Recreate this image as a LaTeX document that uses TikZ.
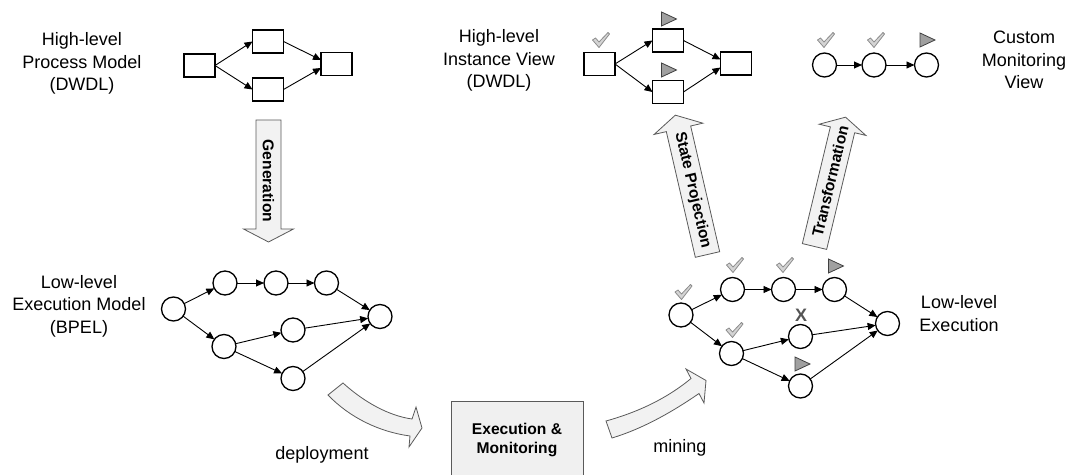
\documentclass[tikz,border=0pt]{standalone}
\usepackage{fontspec}
\setmainfont{Liberation Sans}
\usetikzlibrary{arrows.meta}
\definecolor{fatfill}{HTML}{F2F2F2}
\definecolor{fatline}{HTML}{5A5A5A}
\definecolor{chkfill}{HTML}{D4D4D4}
\definecolor{chkline}{HTML}{8C8C8C}
\definecolor{trifill}{HTML}{A0A0A0}
\definecolor{triline}{HTML}{404040}
\definecolor{boxfill}{HTML}{F0F0F0}
\definecolor{xmark}{HTML}{555555}
\begin{document}
\begin{tikzpicture}[x=0.5pt,y=-0.5pt,
  every node/.style={inner sep=0pt, outer sep=0pt},
  lbl/.style={font=\fontsize{9}{11.3}\selectfont, align=center},
  blbl/.style={font=\fontsize{7.8}{9.5}\selectfont\bfseries, align=center},
  actbox/.style={draw, line width=0.65pt, minimum width=15.5pt, minimum height=11.5pt},
  actcirc/.style={draw, circle, line width=0.65pt, minimum size=12pt},
  flow/.style={line width=0.45pt, -{Triangle[length=4pt,width=3.5pt]}},
  fat/.style={fill=fatfill, draw=fatline, line width=0.4pt, line join=miter},
  chk/.pic={\path[fill=chkfill, draw=chkline, line width=0.4pt, line join=round] (-8.5,0) -- (-5.5,-2) -- (-2,2) -- (7,-7.5) -- (8.5,-6) -- (-2,7.5) -- cycle;},
  tri/.pic={\path[fill=trifill, draw=triline, line width=0.4pt] (-7,-7) -- (8,0) -- (-7,7) -- cycle;},
]
\useasboundingbox (0,0) rectangle (1065,475);

% ---------- labels ----------
\node[lbl] (lHPM) at (82,63.5) {High-level\\Process Model\\(DWDL)};
\node[lbl] (lHIV) at (499,60.5) {High-level\\Instance View\\(DWDL)};
\node[lbl] (lCMV) at (1024,60) {Custom\\Monitoring\\View};
\node[lbl] (lLEM) at (79,306) {Low-level\\Execution Model\\(BPEL)};
\node[lbl] (lLE) at (959,313.5) {Low-level\\Execution};
\node[lbl] (ldep) at (322,455) {deployment};
\node[lbl] (lmin) at (680,448) {mining};

% ---------- high-level process model ----------
\node[actbox] (b1) at (199.5,65.5) {};
\node[actbox] (b2) at (268,41.5) {};
\node[actbox] (b3) at (268,89.5) {};
\node[actbox] (b4) at (336.5,64) {};
\draw[flow] (b1.east) -- (b2.west);
\draw[flow] (b1.east) -- (b3.west);
\draw[flow] (b2.east) -- ([yshift=2pt]b4.west);
\draw[flow] (b3.east) -- ([yshift=-2pt]b4.west);

% ---------- high-level instance view ----------
\node[actbox] (i1) at (599.5,64) {};
\node[actbox] (i2) at (668,40.5) {};
\node[actbox] (i3) at (668,92) {};
\node[actbox] (i4) at (736,63.5) {};
\draw[flow] (i1.east) -- (i2.west);
\draw[flow] (i1.east) -- (i3.west);
\draw[flow] (i2.east) -- ([yshift=2pt]i4.west);
\draw[flow] (i3.east) -- ([yshift=-2pt]i4.west);
\pic at (601,40) {chk};
\pic at (668.5,19) {tri};
\pic at (668.5,70) {tri};

% ---------- custom monitoring view ----------
\node[actcirc] (m1) at (824.5,65) {};
\node[actcirc] (m2) at (874,65) {};
\node[actcirc] (m3) at (926.5,65) {};
\draw[flow] (m1) -- (m2);
\draw[flow] (m2) -- (m3);
\pic at (826,40) {chk};
\pic at (876,40) {chk};
\pic at (927,40) {tri};

% ---------- low-level execution model (BPEL) ----------
\node[actcirc] (e0) at (173.5,309) {};
\node[actcirc] (e1) at (225,283) {};
\node[actcirc] (e2) at (276,283) {};
\node[actcirc] (e3) at (326.5,283) {};
\node[actcirc] (e4) at (380,316.5) {};
\node[actcirc] (e5) at (224,346.5) {};
\node[actcirc] (e6) at (293,330) {};
\node[actcirc] (e7) at (293,378.5) {};
\draw[flow] (e0) -- (e1);
\draw[flow] (e1) -- (e2);
\draw[flow] (e2) -- (e3);
\draw[flow] (e3) -- (e4);
\draw[flow] (e0) -- (e5);
\draw[flow] (e5) -- (e6);
\draw[flow] (e5) -- (e7);
\draw[flow] (e6) -- (e4);
\draw[flow] (e7) -- (e4);

% ---------- low-level execution ----------
\node[actcirc] (r0) at (681,315) {};
\node[actcirc] (r1) at (732.5,289.5) {};
\node[actcirc] (r2) at (783.5,289.5) {};
\node[actcirc] (r3) at (834.5,289.5) {};
\node[actcirc] (r4) at (887.5,323.5) {};
\node[actcirc] (r5) at (731.5,353.5) {};
\node[actcirc] (r6) at (800.5,336.5) {};
\node[actcirc] (r7) at (800.5,386) {};
\draw[flow] (r0) -- (r1);
\draw[flow] (r1) -- (r2);
\draw[flow] (r2) -- (r3);
\draw[flow] (r3) -- (r4);
\draw[flow] (r0) -- (r5);
\draw[flow] (r5) -- (r6);
\draw[flow] (r5) -- (r7);
\draw[flow] (r6) -- (r4);
\draw[flow] (r7) -- (r4);
\pic at (683.5,292) {chk};
\pic at (735,265) {chk};
\pic at (785,265) {chk};
\pic at (835.5,266) {tri};
\pic at (734.5,330) {chk};
\pic at (802,364) {tri};
\node[font=\fontsize{9}{10}\selectfont\bfseries, text=xmark] (xfail) at (801,315) {X};

% ---------- fat straight arrows ----------
\begin{scope}[shift={(268.5,120)}, rotate=180]
  \path[fat] (-12.5,0) -- (12.5,0) -- (12.5,-109) -- (25,-109) -- (0,-122) -- (-25,-109) -- (-12.5,-109) -- cycle;
  \node[blbl, rotate=-90] (tgen) at (0,-61) {Generation};
\end{scope}
\begin{scope}[shift={(707.5,254.5)}, rotate=13]
  \path[fat] (-12.5,0) -- (12.5,0) -- (12.5,-129) -- (25,-129) -- (0,-143) -- (-25,-129) -- (-12.5,-129) -- cycle;
  \node[blbl, rotate=-77] (tsp) at (0,-66) {State Projection};
\end{scope}
\begin{scope}[shift={(814.5,246.5)}, rotate=-13.5]
  \path[fat] (-12.5,0) -- (12.5,0) -- (12.5,-120) -- (24,-120) -- (0,-133) -- (-24,-120) -- (-12.5,-120) -- cycle;
  \node[blbl, rotate=76.5] (ttr) at (0,-67) {Transformation};
\end{scope}

% ---------- curved fat arrows ----------
\path[fat] (343,383) .. controls (365,403) and (390,416) .. (412,419) -- (416,407) -- (422,428) -- (409,447) -- (410,436) .. controls (380,432) and (350,418) .. (328,395) -- cycle;
\path[fat] (606,421) .. controls (635,413) and (665,400) .. (691,378.5) -- (686,369) -- (706,380.5) -- (704,403) -- (699,393.5) .. controls (675,410) and (645,428) .. (612,438) -- cycle;

% ---------- execution & monitoring ----------
\node[blbl, draw=fatline, fill=boxfill, line width=0.5pt, minimum width=66pt, minimum height=38pt] (exec) at (517,440) {Execution \&\\Monitoring};
\end{tikzpicture}
\end{document}
